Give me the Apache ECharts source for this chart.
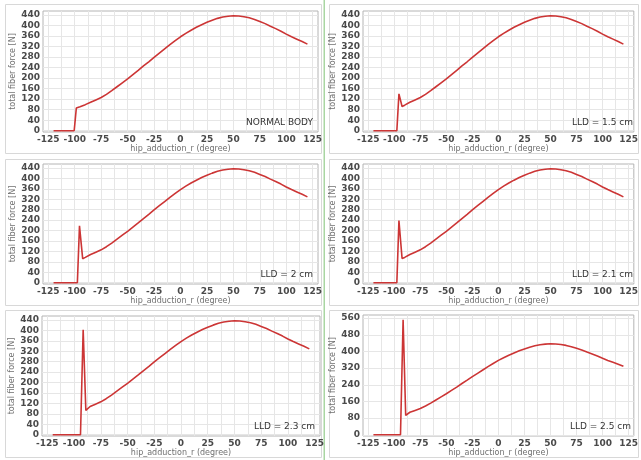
<!DOCTYPE html>
<html>
<head>
<meta charset="utf-8">
<script src="https://cdn.jsdelivr.net/npm/echarts@6/dist/echarts.min.js"></script>
<style>html,body{margin:0;padding:0;background:#fff;}#c{width:641px;height:460px;}</style>
</head>
<body>
<div id="c"></div>
<script>
// ---- data ----
const xTickLabels = [-125, -100, -75, -50, -25, 0, 25, 50, 75, 100, 125];
const xGridValues = [-125, -112.5, -100, -87.5, -75, -62.5, -50, -37.5, -25, -12.5, 0, 12.5, 25, 37.5, 50, 62.5, 75, 87.5, 100, 112.5, 125];
const yTicks440 = [0, 40, 80, 120, 160, 200, 240, 280, 320, 360, 400, 440];
const yTicks560 = [0, 80, 160, 240, 320, 400, 480, 560];
const panelLabels = ['NORMAL BODY', 'LLD = 1.5 cm', 'LLD = 2 cm', 'LLD = 2.1 cm', 'LLD = 2.3 cm', 'LLD = 2.5 cm'];

// common part of the curve (hip_adduction_r in degree, total fiber force in N)
const baseAngle = [-85, -80, -75, -70, -65, -60, -55, -50, -45, -40, -35, -30, -25, -20, -15, -10, -5, 0, 5, 10, 15, 20, 25, 30, 35, 40, 45, 50, 55, 60, 65, 70, 75, 80, 85, 90, 95, 100, 105, 110, 115, 120];
const baseForce = [108, 117, 126, 138, 152, 167, 182, 197, 213, 229, 246, 262, 279, 295, 311, 327, 342, 357, 370, 382, 393, 403, 412, 420, 427, 432, 435, 437, 436, 433, 429, 423, 415, 407, 397, 388, 378, 367, 357, 348, 339, 329];

// onset segments (different per case)
const onsetAngleNormal = [-120, -100.5, -98.5, -95, -90];
const onsetForceNormal = [0, 0, 86, 91, 99];
const onsetAngle15 = [-120, -97.5, -95.5, -92.5, -90];
const onsetForce15 = [0, 0, 140, 92, 97];
const onsetAngle20 = [-120, -97.5, -95.5, -92.5, -90];
const onsetForce20 = [0, 0, 218, 92, 97];
const onsetAngle21 = [-120, -97.5, -95.5, -92.5, -90];
const onsetForce21 = [0, 0, 238, 93, 97];
const onsetAngle23 = [-120, -94, -91.5, -89];
const onsetForce23 = [0, 0, 402, 93];
const onsetAngle25 = [-120, -94, -91.5, -89];
const onsetForce25 = [0, 0, 552, 93];

function build(a, f) {
  const out = [];
  a.forEach((x, i) => out.push([x, f[i]]));
  baseAngle.forEach((x, i) => out.push([x, baseForce[i]]));
  return out;
}
const seriesData = [
  build(onsetAngleNormal, onsetForceNormal),
  build(onsetAngle15, onsetForce15),
  build(onsetAngle20, onsetForce20),
  build(onsetAngle21, onsetForce21),
  build(onsetAngle23, onsetForce23),
  build(onsetAngle25, onsetForce25)
];

// ---- layout ----
const grids = [
  {left: 43, top: 11, width: 275, height: 121},
  {left: 363, top: 11, width: 275, height: 121},
  {left: 43, top: 164, width: 275, height: 120},
  {left: 363, top: 164, width: 275, height: 120},
  {left: 42, top: 316, width: 278, height: 120},
  {left: 363, top: 315, width: 273, height: 121}
];
const frames = [
  [5, 4, 316, 149], [329, 4, 309, 149],
  [5, 159, 316, 146], [329, 159, 309, 146],
  [5, 310, 316, 147], [329, 310, 309, 147]
];
const FONT = 'DejaVu Sans';
const lineColor = '#cc3535';

const option = {
  animation: false,
  backgroundColor: '#ffffff',
  grid: grids.map(g => Object.assign({show: true, backgroundColor: '#fff', borderColor: '#b4b4b4', borderWidth: 1, containLabel: false}, g)),
  xAxis: grids.map((g, i) => ({
    type: 'value', gridIndex: i, min: -130, max: 130,
    name: 'hip_adduction_r (degree)', nameLocation: 'middle', nameGap: 11,
    nameTextStyle: {fontFamily: FONT, fontSize: 8, color: '#707070'},
    axisLine: {show: false},
    axisTick: {show: false, customValues: xGridValues},
    axisLabel: {customValues: xTickLabels, fontFamily: FONT, fontSize: 9, fontWeight: 'bold', color: '#4a4a4a', margin: 3},
    splitLine: {show: true, lineStyle: {color: '#e6e6e6', width: 1}}
  })),
  yAxis: grids.map((g, i) => {
    const big = i === 5;
    return {
      type: 'value', gridIndex: i,
      min: big ? -6 : -5, max: big ? 575 : 455,
      name: 'total fiber force [N]', nameLocation: 'middle', nameGap: 26,
      nameTextStyle: {fontFamily: FONT, fontSize: 8, color: '#707070'},
      axisLine: {show: false},
      axisTick: {show: false, customValues: big ? yTicks560 : yTicks440},
      axisLabel: {customValues: big ? yTicks560 : yTicks440, fontFamily: FONT, fontSize: 9, fontWeight: 'bold', color: '#4a4a4a', margin: 3},
      splitLine: {show: true, lineStyle: {color: '#e6e6e6', width: 1}}
    };
  }),
  series: seriesData.map((d, i) => ({
    type: 'line', xAxisIndex: i, yAxisIndex: i, data: d,
    showSymbol: false, smooth: false, z: 5,
    lineStyle: {color: lineColor, width: 1.6}
  })),
  graphic: [].concat(
    frames.map(f => ({type: 'rect', z: -10, silent: true, shape: {x: f[0] + 0.5, y: f[1] + 0.5, width: f[2], height: f[3]}, style: {fill: null, stroke: '#d8d8d8', lineWidth: 1}})),
    [{type: 'rect', z: -5, silent: true, shape: {x: 323.5, y: 0, width: 1.5, height: 460}, style: {fill: '#a9d6a2'}}],
    grids.map((g, i) => ({
      type: 'text', z: 10, silent: true,
      x: g.left + g.width - 5, y: g.top + g.height - 9,
      style: {text: panelLabels[i], font: '9px "DejaVu Sans"', fill: '#333', align: 'right', verticalAlign: 'middle'}
    }))
  )
};
const chart = echarts.init(document.getElementById('c'));
chart.setOption(option);
</script>
</body>
</html>
